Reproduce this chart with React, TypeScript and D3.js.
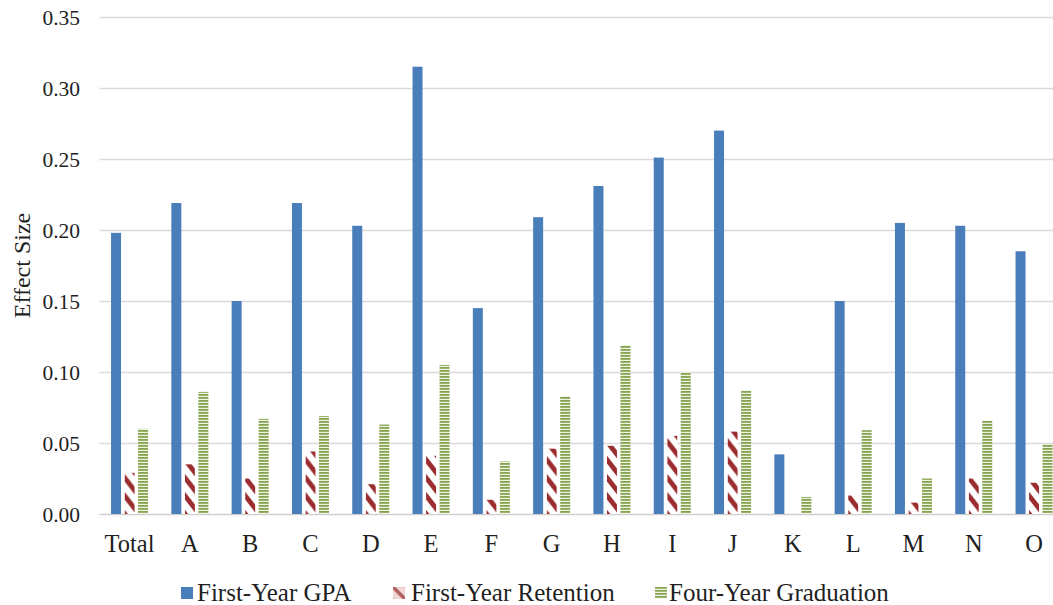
import React from "react";
import * as d3 from "d3";

const categories = ["Total", "A", "B", "C", "D", "E", "F", "G", "H", "I", "J", "K", "L", "M", "N", "O"];
const seriesNames = ["First-Year GPA", "First-Year Retention", "Four-Year Graduation"];
const gpa = [0.198, 0.219, 0.15, 0.219, 0.203, 0.315, 0.145, 0.209, 0.231, 0.251, 0.27, 0.042, 0.15, 0.205, 0.203, 0.185];
const retention = [0.029, 0.035, 0.025, 0.044, 0.021, 0.041, 0.01, 0.046, 0.048, 0.055, 0.058, 0, 0.013, 0.008, 0.025, 0.022];
const graduation = [0.06, 0.086, 0.067, 0.069, 0.063, 0.105, 0.037, 0.083, 0.119, 0.1, 0.087, 0.012, 0.059, 0.025, 0.066, 0.049];
const yTicks = [0, 0.05, 0.1, 0.15, 0.2, 0.25, 0.3, 0.35];

const W = 1053;
const H = 605;
const FONT = "Liberation Serif, Times New Roman, DejaVu Serif, serif";
const BLUE = "#4A7EBB";
const RED = "#9B2D30";
const GREEN = "#86A350";
const TEXT = "#1f1f1f";

const txt = (size: number): React.CSSProperties => ({ fontFamily: FONT, fontSize: size, fill: TEXT });

export default function App() {
  const plotLeft = 99.4;
  const step = 60.3;
  const x = d3
    .scaleBand<string>()
    .domain(categories)
    .range([plotLeft, plotLeft + step * categories.length])
    .paddingInner(0.386)
    .paddingOuter(0.193);
  const xs = d3.scaleBand<string>().domain(seriesNames).range([0, x.bandwidth()]).paddingInner(0.26);
  const y = d3.scaleLinear().domain([0, 0.35]).range([514, 17]);

  const values = [gpa, retention, graduation];
  const fills = [BLUE, "url(#retHatch)", "url(#gradLines)"];

  // bars sit inside a translated group, so the hatch origin is in group-local units
  const retX = xs(seriesNames[1]) ?? 0;
  const bw = xs.bandwidth();

  const legendY = 587;
  const legendItems = [
    { name: seriesNames[0], sx: 181, tx: 197, fill: BLUE },
    { name: seriesNames[1], sx: 393, tx: 411, fill: "url(#retSwatch)" },
    { name: seriesNames[2], sx: 655, tx: 669, fill: "url(#gradSwatch)" },
  ];

  return (
    <svg width={W} height={H} style={{ position: "absolute", left: 0, top: 0, background: "#fff" }}>
      <defs>
        {/* wide downward diagonal stripes */}
        <pattern id="retHatch" patternUnits="userSpaceOnUse" x={retX} y={y(0)} width={60} height={18}>
          <rect x={0} y={0} width={60} height={18} fill="#fff" />
          <line x1={-2} y1={-3} x2={bw + 2} y2={15} stroke={RED} strokeWidth={4.8} />
          <line x1={-2} y1={15} x2={bw + 2} y2={33} stroke={RED} strokeWidth={4.8} />
          <line x1={-2} y1={-21} x2={bw + 2} y2={-3} stroke={RED} strokeWidth={4.8} />
        </pattern>
        <pattern id="gradLines" patternUnits="userSpaceOnUse" x={0} y={y(0)} width={8} height={3}>
          <rect x={0} y={0} width={8} height={3} fill="#EEF3E4" />
          <rect x={0} y={0} width={8} height={1.8} fill={GREEN} />
        </pattern>
        <pattern id="retSwatch" patternUnits="userSpaceOnUse" x={393} y={legendY} width={12} height={12}>
          <rect width={12} height={12} fill="#F1D6D6" />
          <line x1={0} y1={0} x2={12} y2={12} stroke={RED} strokeWidth={3.5} opacity={0.7} />
          <line x1={-6} y1={6} x2={6} y2={18} stroke={RED} strokeWidth={2} opacity={0.35} />
          <line x1={6} y1={-6} x2={18} y2={6} stroke={RED} strokeWidth={2} opacity={0.35} />
        </pattern>
        <pattern id="gradSwatch" patternUnits="userSpaceOnUse" x={0} y={legendY} width={12} height={3}>
          <rect width={12} height={3} fill="#EEF3E4" />
          <rect width={12} height={1.7} fill={GREEN} />
        </pattern>
      </defs>

      {/* horizontal gridlines */}
      {yTicks.map((t) => (
        <line
          key={`g${t}`}
          x1={plotLeft}
          x2={W}
          y1={Math.round(y(t)) + 0.5}
          y2={Math.round(y(t)) + 0.5}
          stroke={t === 0 ? "#D0D0D0" : "#D9D9D9"}
          strokeWidth={1.3}
        />
      ))}

      {/* y tick labels */}
      {yTicks.map((t) => (
        <text key={`t${t}`} x={80} y={y(t)} dy="0.35em" textAnchor="end" style={txt(21.5)}>
          {t.toFixed(2)}
        </text>
      ))}

      <text transform={`translate(30,${y(0.175)}) rotate(-90)`} textAnchor="middle" style={txt(24)}>
        Effect Size
      </text>

      {/* bars */}
      {categories.map((c, i) => (
        <g key={c} transform={`translate(${x(c)},0)`}>
          {seriesNames.map((s, k) => {
            const v = values[k][i];
            if (!v) return null;
            return <rect key={s} x={xs(s)} y={y(v)} width={bw} height={y(0) - y(v)} fill={fills[k]} />;
          })}
        </g>
      ))}

      {/* category labels */}
      {categories.map((c) => (
        <text key={`c${c}`} x={(x(c) ?? 0) + x.bandwidth() / 2} y={552} textAnchor="middle" style={txt(24.5)}>
          {c}
        </text>
      ))}

      {/* legend */}
      {legendItems.map((it) => (
        <g key={it.name}>
          <rect x={it.sx} y={legendY} width={12} height={12} fill={it.fill} />
          <text x={it.tx} y={601} style={txt(25)}>
            {it.name}
          </text>
        </g>
      ))}
    </svg>
  );
}
